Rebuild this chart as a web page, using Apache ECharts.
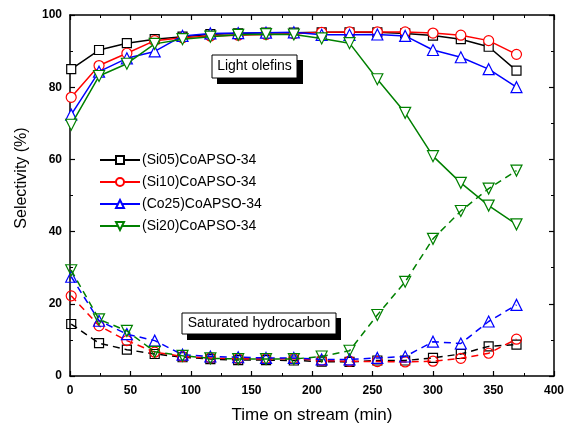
<!DOCTYPE html>
<html><head><meta charset="utf-8">
<script src="https://cdn.jsdelivr.net/npm/echarts@6/dist/echarts.min.js"></script>
<style>html,body{margin:0;padding:0;background:#fff}#c{width:573px;height:429px}</style>
</head><body><div id="c"></div>
<script>
const times = [1, 24, 47, 70, 93, 116, 139, 162, 185, 208, 231, 254, 277, 300, 323, 346, 369];
const seriesNames = ['(Si05)CoAPSO-34', '(Si10)CoAPSO-34', '(Co25)CoAPSO-34', '(Si20)CoAPSO-34'];
// Light olefins selectivity (%)
const olefinSi05 = [85.0, 90.3, 92.2, 93.3, 94.0, 94.7, 94.9, 95.1, 95.1, 95.2, 95.2, 95.2, 94.9, 94.3, 93.3, 91.2, 84.6];
const olefinSi10 = [77.2, 86.0, 89.4, 92.9, 93.7, 94.2, 94.4, 94.6, 94.8, 95.2, 95.3, 95.3, 95.3, 95.0, 94.4, 92.9, 89.1];
const olefinCo25 = [72.4, 84.3, 88.0, 89.9, 94.2, 94.9, 95.0, 95.1, 95.2, 94.5, 94.5, 94.6, 94.2, 90.3, 88.3, 85.0, 80.0];
const olefinSi20 = [69.6, 83.1, 86.5, 92.0, 93.3, 94.0, 94.5, 94.7, 94.6, 93.5, 92.2, 82.2, 72.9, 60.9, 53.5, 47.2, 42.0];
// Saturated hydrocarbon selectivity (%)
const satSi05 = [14.4, 9.1, 7.3, 6.1, 5.2, 4.7, 4.4, 4.4, 4.3, 4.0, 3.9, 4.3, 4.3, 5.0, 6.1, 8.2, 8.7];
const satSi10 = [22.2, 13.9, 9.8, 6.6, 5.4, 5.0, 4.8, 4.8, 4.8, 4.3, 4.1, 4.0, 3.9, 4.1, 4.9, 6.3, 10.2];
const satCo25 = [27.5, 15.3, 11.6, 9.8, 5.9, 5.4, 5.2, 5.0, 5.0, 4.6, 4.6, 5.0, 5.4, 9.5, 9.0, 15.1, 19.7];
const satSi20 = [29.3, 15.7, 12.5, 6.7, 5.6, 4.9, 4.7, 4.7, 4.7, 5.4, 7.0, 16.9, 26.1, 38.0, 45.7, 51.9, 56.9];
const xTicks = [0, 50, 100, 150, 200, 250, 300, 350, 400];
const yTicks = [0, 20, 40, 60, 80, 100];

const colors = ['#000000', '#ff0000', '#0000ff', '#008000'];
const symbols = ['rect', 'circle', 'triangle', 'path://M0,0 L10,0 L5,10 Z'];
const sizes = [9, 10, 11, 11];
const olefins = [olefinSi05, olefinSi10, olefinCo25, olefinSi20];
const sats = [satSi05, satSi10, satCo25, satSi20];
const FONT = '"Liberation Sans", Arial, sans-serif';

const series = [];
olefins.forEach((vals, k) => {
  series.push({
    name: seriesNames[k], type: 'line', z: 3 + k,
    data: times.map((t, i) => [t, vals[i]]),
    symbol: symbols[k], symbolSize: sizes[k], showSymbol: true,
    lineStyle: { color: colors[k], width: 1.5 },
    itemStyle: { color: '#fff', borderColor: colors[k], borderWidth: 1.2 },
    emphasis: { disabled: true }
  });
});
sats.forEach((vals, k) => {
  series.push({
    name: seriesNames[k] + ' sat', type: 'line', z: 3 + k,
    data: times.map((t, i) => [t, vals[i]]),
    symbol: symbols[k], symbolSize: sizes[k],
    lineStyle: { color: colors[k], width: 1.5, type: [7, 5] },
    itemStyle: { color: 'rgba(255,255,255,0)', borderColor: colors[k], borderWidth: 1.2 },
    emphasis: { disabled: true }
  });
});

const axisCommon = {
  axisLine: { show: true, onZero: false, lineStyle: { color: '#000', width: 1.5 } },
  axisTick: { show: true, inside: true, length: 5, lineStyle: { color: '#000', width: 1.2 } },
  minorTick: { show: true, splitNumber: 2, length: 3, lineStyle: { color: '#000', width: 1 } },
  splitLine: { show: false }
};

const chart = echarts.init(document.getElementById('c'), null, { renderer: 'canvas' });
chart.setOption({
  animation: false,
  backgroundColor: '#fff',
  grid: { left: 70, right: 19, top: 15, bottom: 52 },
  legend: {
    data: seriesNames, orient: 'vertical', left: 94, top: 148,
    itemWidth: 40, itemHeight: 10, itemGap: 8,
    textStyle: { fontFamily: FONT, fontSize: 14, color: '#000', padding: [0, 0, 0, -3] },
    selectedMode: false
  },
  xAxis: [
    Object.assign({}, axisCommon, {
      type: 'value', min: 0, max: 400, interval: 50, position: 'bottom',
      name: 'Time on stream (min)', nameLocation: 'middle', nameGap: 31,
      nameTextStyle: { fontFamily: FONT, fontSize: 17, color: '#000' },
      axisLabel: { fontFamily: FONT, fontSize: 12, fontWeight: 'bold', color: '#000', margin: 9,
        formatter: v => xTicks.includes(v) ? String(v) : '' }
    }),
    Object.assign({}, axisCommon, {
      type: 'value', min: 0, max: 400, interval: 50, position: 'top',
      axisLabel: { show: false }
    })
  ],
  yAxis: [
    Object.assign({}, axisCommon, {
      type: 'value', min: 0, max: 100, interval: 20, position: 'left',
      axisLabel: { fontFamily: FONT, fontSize: 12, fontWeight: 'bold', color: '#000', margin: 8,
        formatter: v => yTicks.includes(v) ? String(v) : '' }
    }),
    Object.assign({}, axisCommon, {
      type: 'value', min: 0, max: 100, interval: 20, position: 'right',
      axisLabel: { show: false }
    })
  ],
  graphic: [
    { type: 'text', x: 22, y: 178, rotation: Math.PI / 2, style: { text: 'Selectivity (%)', fontFamily: FONT, fontSize: 16, fill: '#000', align: 'center', verticalAlign: 'middle' }, z: 102 },
    { type: 'rect', shape: { x: 217, y: 60, width: 86, height: 24 }, style: { fill: '#000' }, z: 100 },
    { type: 'rect', shape: { x: 212, y: 55, width: 85, height: 23 }, style: { fill: '#fff', stroke: '#000', lineWidth: 1 }, z: 101 },
    { type: 'text', x: 254.5, y: 66.5, style: { text: 'Light olefins', fontFamily: FONT, fontSize: 14, fill: '#000', align: 'center', verticalAlign: 'middle' }, z: 102 },
    { type: 'rect', shape: { x: 187, y: 318, width: 154, height: 22 }, style: { fill: '#000' }, z: 100 },
    { type: 'rect', shape: { x: 182, y: 313, width: 154, height: 21 }, style: { fill: '#fff', stroke: '#000', lineWidth: 1 }, z: 101 },
    { type: 'text', x: 259, y: 323.5, style: { text: 'Saturated hydrocarbon', fontFamily: FONT, fontSize: 14, fill: '#000', align: 'center', verticalAlign: 'middle' }, z: 102 }
  ],
  series: series
});
</script>
</body></html>
